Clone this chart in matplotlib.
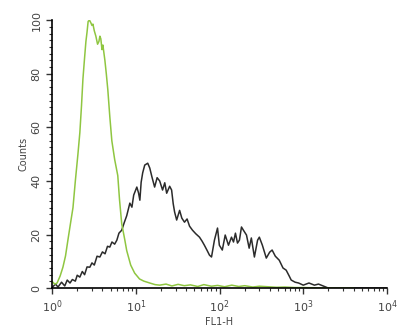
import matplotlib
matplotlib.use("Agg")
import matplotlib.pyplot as plt
from matplotlib.ticker import MultipleLocator, LogLocator, NullFormatter

# Histograma de citometria (FL1-H).
# Control (verde)
fl_ctrl = [1.0, 1.08, 1.15, 1.25, 1.35, 1.45, 1.55, 1.66, 1.78, 1.9, 2.04, 2.15, 2.25, 2.34,
           2.45, 2.54, 2.62, 2.7, 2.8, 2.91, 3.0, 3.08, 3.2, 3.34, 3.5, 3.63, 3.73, 3.83,
           3.95, 4.05, 4.28, 4.45, 4.64, 4.9, 5.18, 5.6, 6.1, 6.4, 6.8, 7.4, 7.8, 8.7,
           9.7, 11.1, 12.5, 14.7, 17, 19.3, 23, 27, 32, 38, 45, 55, 65, 80, 95, 115, 140,
           170, 200, 250, 300, 380, 480, 600, 800, 1000, 1500, 2500, 4000]
cnt_ctrl = [2.5, 1.5, 1.9, 4.5, 7.8, 12, 18, 24, 30, 40, 50, 58, 68, 78,
            86, 92, 95.5, 99.5, 100, 99, 98, 98.5, 96, 94, 91, 92, 94, 93,
            89, 90.7, 85, 80, 74, 64, 55, 48, 42, 33, 24, 18, 14, 8.6,
            5.6, 3.4, 2.6, 1.9, 1.3, 1.1, 1.5, 0.8, 1.4, 0.9, 1.2, 0.6, 1.3, 0.7, 1.0, 0.5, 1.1,
            0.6, 0.9, 0.4, 0.7, 0.5, 0.3, 0.4, 0.2, 0.2, 0.1, 0.0, 0.0]

# Muestra (negro)
fl_muestra = [1.0, 1.1, 1.18, 1.3, 1.42, 1.52, 1.64, 1.75, 1.9, 2.0, 2.15, 2.3, 2.45, 2.62,
              2.83, 3.0, 3.2, 3.45, 3.73, 4.0, 4.3, 4.6, 4.9, 5.2, 5.6, 5.95, 6.3, 6.8,
              7.3, 7.8, 8.5, 9.0, 9.45, 10.3, 10.8, 11.2, 11.6, 12.1, 12.8, 13.9, 14.7,
              15.6, 16.8, 18, 19.3, 20.9, 22.2, 23.4, 25.4, 26.8, 28, 29.1, 30.8, 33.4,
              35.5, 38.2, 41, 43.9, 47.6, 52, 57.7, 62, 66, 71, 75.9, 80.3, 87, 94.7,
              99.6, 108, 117, 128, 139, 147, 155, 164, 173, 183, 193, 210, 226, 240,
              261, 285, 299, 325, 362, 397, 425, 464, 517, 573, 625, 680, 718, 800,
              880, 1000, 1170, 1360, 1520, 1760, 2000, 3000, 5000, 10000]
cnt_muestra = [0.2, 1.5, 0.4, 2.2, 0.8, 3.0, 1.9, 3.2, 2.6, 4.8, 4.1, 6.2, 5.0, 7.9,
               7.8, 9.4, 8.6, 11.9, 11.6, 13.5, 12.8, 15.6, 15.3, 17.2, 16.4, 17.9, 20.5, 21.6,
               24.5, 27, 31.7, 30.2, 34.7, 37.7, 35.5, 32.8, 39.5, 43, 45.9, 46.6, 44.8,
               41.5, 37.7, 41.2, 40, 36.6, 39.3, 35.4, 38, 36.6, 31.5, 28.4, 25.4, 29,
               26.1, 24.6, 25.8, 23.1, 21.6, 20.3, 19, 17.5, 16, 14.1, 12.3, 11.6, 17.9, 22.4,
               16, 14.2, 19.8, 16, 19, 17.2, 20.5, 16.8, 17.9, 22.8, 21.6, 19.8, 14.9, 18.7,
               11.6, 17.9, 19, 16, 11.2, 13.4, 14.2, 11.9, 10.4, 7.5, 6.7, 4.5, 3.0, 2.2,
               1.9, 1.1, 1.9, 1.1, 1.5, 0.7, 0.0, 0.0, 0.0, 0.0]

fig = plt.figure(figsize=(4, 3.35), dpi=100)
ax = fig.add_axes([0.13, 0.14, 0.8375, 0.80])

ax.plot(fl_muestra, cnt_muestra, color="#2b2b2b", lw=1.1)
ax.plot(fl_ctrl, cnt_ctrl, color="#8fc641", lw=1.1)

ax.set_xscale("log")
ax.set_xlim(1, 1e4)
ax.set_ylim(0, 100)

ax.xaxis.set_major_locator(LogLocator(base=10, numticks=10))
ax.xaxis.set_minor_locator(LogLocator(base=10, subs=range(2, 10), numticks=20))
ax.xaxis.set_minor_formatter(NullFormatter())
ax.yaxis.set_major_locator(MultipleLocator(20))
ax.yaxis.set_minor_locator(MultipleLocator(2.5))

for s in ["top", "right"]:
    ax.spines[s].set_visible(False)
ax.spines["left"].set_linewidth(1.2)
ax.spines["bottom"].set_linewidth(1.2)

ax.tick_params(which="major", length=4, width=1, labelsize=8, color="#333333",
               labelcolor="#444444")
ax.tick_params(which="minor", length=2.5, width=0.8, color="#333333")
for lab in ax.get_yticklabels():
    lab.set_rotation(90)
    lab.set_va("center")

ax.set_xlabel("FL1-H", fontsize=7, color="#444444", labelpad=1)
ax.set_ylabel("Counts", fontsize=7, color="#444444", labelpad=2)

fig.savefig("out.png", dpi=100)
